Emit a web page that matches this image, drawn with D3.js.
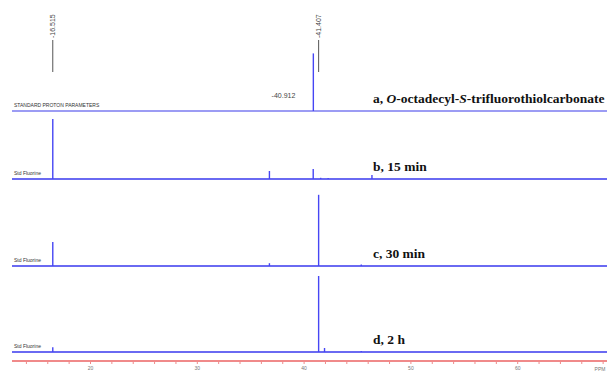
<!DOCTYPE html>
<html>
<head>
<meta charset="utf-8">
<script src="https://cdn.jsdelivr.net/npm/d3@7"></script>
<style>
  body { margin: 0; background: #fff; }
  svg { display: block; }
</style>
</head>
<body>
<script>
// spectra: peak position (ppm, shown as magnitude) and relative intensity
const spectrumA = [{ ppm: 40.912, h: 72 }];
const spectrumB = [
  { ppm: 16.515, h: 75 },
  { ppm: 36.8, h: 10 },
  { ppm: 40.9, h: 12.5 },
  { ppm: 41.6, h: 1.5 },
  { ppm: 42.3, h: 1.2 },
  { ppm: 46.4, h: 5 },
];
const spectrumC = [
  { ppm: 16.515, h: 30 },
  { ppm: 36.8, h: 3.5 },
  { ppm: 41.407, h: 89 },
  { ppm: 45.4, h: 2 },
];
const spectrumD = [
  { ppm: 16.515, h: 6 },
  { ppm: 41.407, h: 95 },
  { ppm: 41.96, h: 5 },
  { ppm: 45.4, h: 1.2 },
];
const spectra = [spectrumA, spectrumB, spectrumC, spectrumD];
const panelNames = ["a", "b", "c", "d"];
const headerTexts = ["STANDARD PROTON PARAMETERS", "Std Fluorine", "Std Fluorine", "Std Fluorine"];
const sampleLabels = [
  [["a, ", false], ["O", true], ["-octadecyl-", false], ["S", true], ["-trifluorothiolcarbonate", false]],
  [["b, 15 min", false]],
  [["c, 30 min", false]],
  [["d, 2 h", false]],
];
const peakAnnotations = [
  { ppm: 16.515, text: "-16.515" },
  { ppm: 41.407, text: "-41.407" },
];
const inlineLabel = { ppm: 40.912, text: "-40.912" };
const majorTicks = [20, 30, 40, 50, 60];
const axisUnit = "PPM";

const width = 611;
const height = 371;
const baselines = [111, 179, 266, 352];
const axisY = 361;

const x = d3.scaleLinear().domain([20, 60]).range([90, 517.2]);
const xLeft = 12, xRight = 607;
const hScale = d3.scaleLinear().domain([0, 100]).range([0, 80]);

const svg = d3.select("body").append("svg")
  .attr("width", width)
  .attr("height", height)
  .attr("viewBox", [0, 0, width, height]);

// spectra panels
spectra.forEach((peaks, i) => {
  const g = svg.append("g").attr("class", "panel-" + panelNames[i]);
  const y0 = baselines[i];

  g.append("line")
    .attr("x1", xLeft).attr("x2", xRight)
    .attr("y1", y0).attr("y2", y0)
    .attr("stroke", i === 0 ? "#9c9cf4" : "#6a6af2")
    .attr("stroke-width", 2);

  g.selectAll(".peak").data(peaks).join("line")
    .attr("class", "peak")
    .attr("x1", d => x(d.ppm)).attr("x2", d => x(d.ppm))
    .attr("y1", y0).attr("y2", d => y0 - hScale(d.h))
    .attr("stroke", "#4646f4")
    .attr("stroke-width", 1.4);

  g.append("text")
    .attr("x", 14).attr("y", y0 - 4)
    .attr("font-family", "Liberation Sans, Arial, sans-serif")
    .attr("font-size", 5)
    .attr("fill", "#333")
    .text(headerTexts[i]);

  const t = g.append("text")
    .attr("x", 373).attr("y", y0 - 8)
    .attr("font-family", "Liberation Serif, Times New Roman, serif")
    .attr("font-weight", "bold")
    .attr("font-size", 13.5)
    .attr("fill", "#111");
  sampleLabels[i].forEach(([s, it]) => {
    t.append("tspan").attr("font-style", it ? "italic" : "normal").text(s);
  });
});

// peak annotations on top spectrum
const ann = svg.append("g");
peakAnnotations.forEach(a => {
  const px = x(a.ppm) + (a.ppm > 40 ? 0 : 0);
  ann.append("line")
    .attr("x1", px).attr("x2", px)
    .attr("y1", 40).attr("y2", 72)
    .attr("stroke", "#555").attr("stroke-width", 1);
  ann.append("text")
    .attr("transform", `translate(${px + 2},38) rotate(-90)`)
    .attr("font-family", "Liberation Sans, Arial, sans-serif")
    .attr("font-size", 7)
    .attr("fill", "#444")
    .text(a.text);
});
ann.append("text")
  .attr("x", x(inlineLabel.ppm) - 18).attr("y", 98)
  .attr("text-anchor", "end")
  .attr("font-family", "Liberation Sans, Arial, sans-serif")
  .attr("font-size", 7)
  .attr("fill", "#444")
  .text(inlineLabel.text);

// ppm axis
const tickVals = d3.range(14, 69, 2);
const axis = d3.axisBottom(x)
  .tickValues(tickVals)
  .tickSize(3)
  .tickSizeOuter(0)
  .tickFormat(d => majorTicks.includes(d) ? String(d) : "");
const ax = svg.append("g")
  .attr("transform", `translate(0,${axisY})`)
  .call(axis);
ax.select(".domain").remove();
ax.insert("line", ":first-child")
  .attr("x1", xLeft).attr("x2", xRight)
  .attr("stroke", "#f08a8a").attr("stroke-width", 2);
ax.selectAll(".tick line").attr("stroke", "#f08a8a");
ax.selectAll(".tick text")
  .attr("y", 5)
  .attr("font-family", "Liberation Sans, Arial, sans-serif")
  .attr("font-size", 5)
  .attr("fill", "#777");
ax.append("text")
  .attr("x", 600).attr("y", 10)
  .attr("text-anchor", "middle")
  .attr("font-family", "Liberation Sans, Arial, sans-serif")
  .attr("font-size", 5)
  .attr("fill", "#777")
  .text(axisUnit);
</script>
</body>
</html>
